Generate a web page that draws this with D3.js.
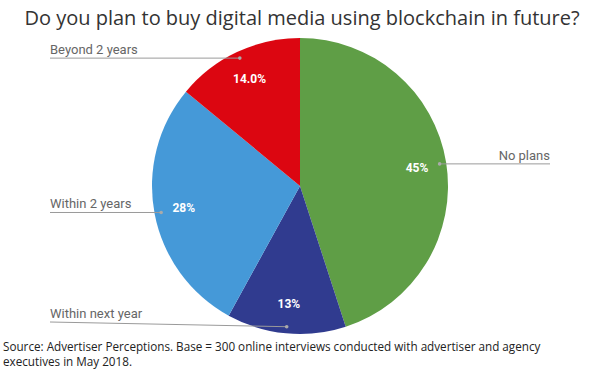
<!DOCTYPE html>
<html>
<head>
<meta charset="utf-8">
<script src="https://cdn.jsdelivr.net/npm/d3@7"></script>
<style>
  body { margin: 0; background: #fff; }
  svg { display: block; }
</style>
</head>
<body>
<svg width="600" height="375"></svg>
<script>
// chart data
var categories = ["No plans", "Within next year", "Within 2 years", "Beyond 2 years"];
var values = [45, 13, 28, 14];
var valueLabels = ["45%", "13%", "28%", "14.0%"];
var sliceColors = ["#5f9e46", "#303b8f", "#4599d8", "#dc0611"];

var width = 600, height = 375,
  cx = 300, cy = 186, radius = 148,
  svg = d3.select("svg");

var rows = categories.map(function (c, i) {
  return { name: c, value: values[i], label: valueLabels[i], color: sliceColors[i] };
});

// title
svg.append("text")
  .attr("x", 302).attr("y", 25)
  .attr("text-anchor", "middle")
  .style("font-family", "'Open Sans', sans-serif")
  .style("font-size", "20px")
  .style("fill", "#333")
  .text("Do you plan to buy digital media using blockchain in future?");

var pie = d3.pie().sort(null).value(function (d) { return d.value; });
var arc = d3.arc().innerRadius(0).outerRadius(radius);
var labelArc = d3.arc().innerRadius(radius * 0.8).outerRadius(radius * 0.8);
var dotArc = d3.arc().innerRadius(radius * 0.955).outerRadius(radius * 0.955);

var g = svg.append("g").attr("transform", "translate(" + cx + "," + cy + ")");
var arcs = pie(rows);

g.selectAll("path").data(arcs).enter().append("path")
  .attr("d", arc)
  .style("fill", function (d) { return d.data.color; });

// percentages inside slices
g.selectAll("text.pct").data(arcs).enter().append("text")
  .attr("class", "pct")
  .attr("transform", function (d) { return "translate(" + labelArc.centroid(d) + ")"; })
  .attr("dy", "0.35em")
  .attr("text-anchor", "middle")
  .style("font-family", "Roboto, sans-serif")
  .style("font-size", "12px")
  .style("font-weight", "bold")
  .style("fill", "#fff")
  .text(function (d) { return d.data.label; });

// leader lines and category names
var leftX = 50, rightX = 550, bottomY = 322;
arcs.forEach(function (d) {
  var c = dotArc.centroid(d),
    dx = cx + c[0], dy = cy + c[1],
    right = c[0] > 0,
    ex = right ? rightX : leftX,
    ey = Math.min(dy, bottomY);

  svg.append("line")
    .attr("x1", dx).attr("y1", dy)
    .attr("x2", ex).attr("y2", ey)
    .style("stroke", "#9a9a9a").style("stroke-width", 1);
  svg.append("circle")
    .attr("cx", dx).attr("cy", dy).attr("r", 1.8)
    .style("fill", "#aaa");
  svg.append("text")
    .attr("x", ex).attr("y", ey - 4)
    .attr("text-anchor", right ? "end" : "start")
    .style("font-family", "Roboto, sans-serif")
    .style("font-size", "13px")
    .style("fill", "#666")
    .text(d.data.name);
});

// source note
var note = svg.append("text")
  .style("font-family", "'Open Sans', sans-serif")
  .style("font-size", "11.7px")
  .style("fill", "#222");
note.append("tspan").attr("x", 3).attr("y", 351)
  .text("Source: Advertiser Perceptions. Base = 300 online interviews conducted with advertiser and agency");
note.append("tspan").attr("x", 3).attr("y", 366)
  .text("executives in May 2018.");
</script>
</body>
</html>
